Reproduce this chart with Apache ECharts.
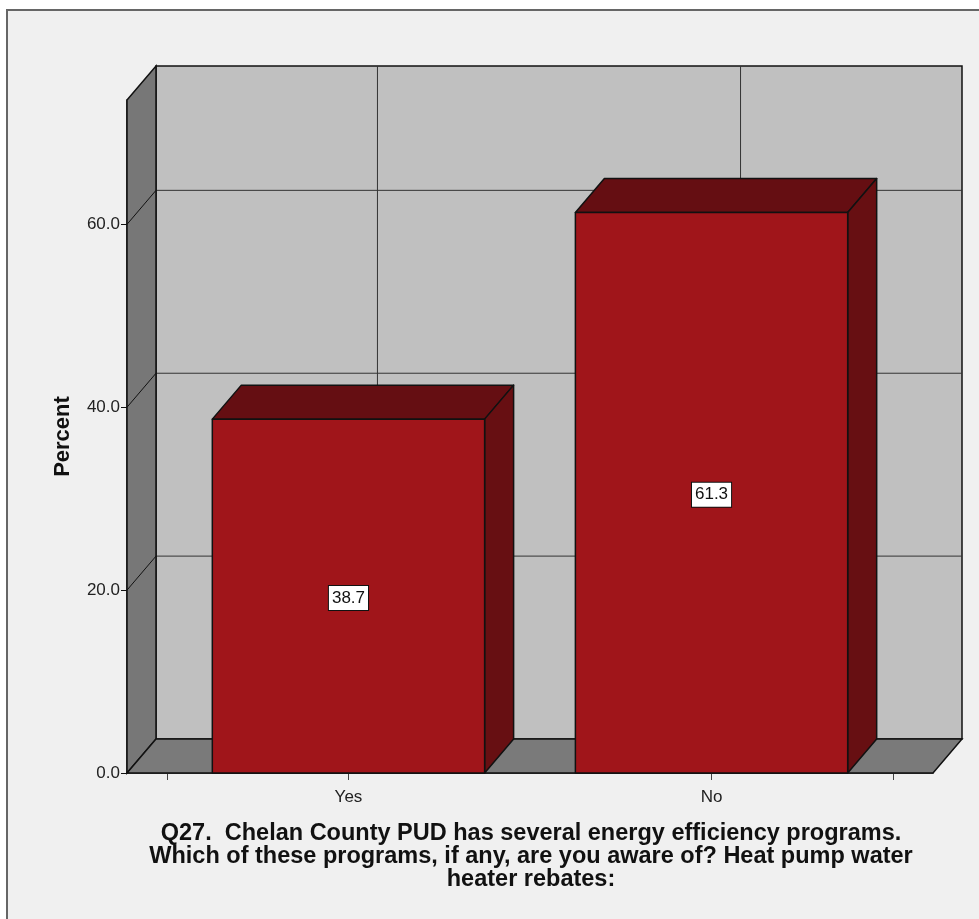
<!DOCTYPE html>
<html>
<head>
<meta charset="utf-8">
<script src="https://cdn.jsdelivr.net/npm/echarts@6/dist/echarts.min.js"></script>
<style>
  html, body { margin: 0; padding: 0; background: #ffffff; }
  #chart { width: 979px; height: 919px; }
</style>
</head>
<body>
<div id="chart"></div>
<script>
// Survey answers and their percentages
const categories = ['Yes', 'No'];
const percents = [38.7, 61.3];
const yTicks = [0, 20, 40, 60];
const titleLines = [
  'Q27.  Chelan County PUD has several energy efficiency programs.',
  'Which of these programs, if any, are you aware of? Heat pump water',
  'heater rebates:'
];

// Axis extents and the pseudo-3D look
const X_MIN = 0.39, X_MAX = 2.61, Y_MAX = 73.6;
const DEPTH = [29, -34];      // screen offset of the back plane
const HALF = 0.375;           // half bar width in axis units
const FONT = '"Liberation Sans", Arial, Helvetica, sans-serif';

function back(p) { return [p[0] + DEPTH[0], p[1] + DEPTH[1]]; }

// Back wall, left wall and floor of the box
function renderFrame(params, api) {
  const tl = api.coord([X_MIN, Y_MAX]);
  const br = api.coord([X_MAX, 0]);
  const bl = [tl[0], br[1]];
  const children = [];
  const btl = back(tl), bbr = back(br);
  children.push({
    type: 'rect',
    shape: { x: btl[0], y: btl[1], width: bbr[0] - btl[0], height: bbr[1] - btl[1] },
    style: { fill: '#c0c0c0', stroke: '#111', lineWidth: 1.5 }
  });
  yTicks.forEach(v => {
    if (v <= 0) return;
    const a = back(api.coord([X_MIN, v]));
    const b = back(api.coord([X_MAX, v]));
    children.push({ type: 'line', shape: { x1: a[0], y1: a[1], x2: b[0], y2: b[1] },
      style: { stroke: '#333', lineWidth: 1 } });
  });
  categories.forEach((c, i) => {
    const a = back(api.coord([i + 1, Y_MAX]));
    const b = back(api.coord([i + 1, 0]));
    children.push({ type: 'line', shape: { x1: a[0], y1: a[1], x2: b[0], y2: b[1] },
      style: { stroke: '#333', lineWidth: 1 } });
  });
  children.push({
    type: 'polygon',
    shape: { points: [tl, back(tl), back(bl), bl] },
    style: { fill: '#777777', stroke: '#111', lineWidth: 1.5 }
  });
  yTicks.forEach(v => {
    if (v <= 0) return;
    const a = api.coord([X_MIN, v]);
    const b = back(a);
    children.push({ type: 'line', shape: { x1: a[0], y1: a[1], x2: b[0], y2: b[1] },
      style: { stroke: '#111', lineWidth: 1 } });
  });
  children.push({
    type: 'polygon',
    shape: { points: [bl, back(bl), back(br), br] },
    style: { fill: '#7a7a7a', stroke: '#111', lineWidth: 1.5 }
  });
  return { type: 'group', children };
}

// One 3D box per answer, with its value label
function renderBar(params, api) {
  const c = api.value(0), v = api.value(1);
  const p0 = api.coord([c - HALF, v]);
  const p1 = api.coord([c + HALF, 0]);
  const fl = p0[0], fr = p1[0], ft = p0[1], fb = p1[1];
  const stroke = { stroke: '#111', lineWidth: 1.5, lineJoin: 'round' };
  const mid = api.coord([c, v / 2]);
  return {
    type: 'group',
    children: [
      { type: 'polygon', shape: { points: [[fl, ft], back([fl, ft]), back([fr, ft]), [fr, ft]] },
        style: Object.assign({ fill: '#650e12' }, stroke) },
      { type: 'polygon', shape: { points: [[fr, ft], back([fr, ft]), back([fr, fb]), [fr, fb]] },
        style: Object.assign({ fill: '#670f12' }, stroke) },
      { type: 'rect', shape: { x: fl, y: ft, width: fr - fl, height: fb - ft },
        style: Object.assign({ fill: '#a0151a' }, stroke) },
      { type: 'text', x: mid[0], y: mid[1] + 2,
        style: { text: v.toFixed(1), font: '17px ' + FONT, fill: '#111',
          align: 'center', verticalAlign: 'middle', backgroundColor: '#ffffff',
          borderColor: '#111', borderWidth: 1, padding: [3, 3, 2, 3], lineHeight: 19 } }
    ]
  };
}

const chart = echarts.init(document.getElementById('chart'), null, { renderer: 'canvas' });
chart.setOption({
  backgroundColor: '#ffffff',
  animation: false,
  graphic: [
    { type: 'rect', z: -100, shape: { x: 7, y: 10, width: 990, height: 930 },
      style: { fill: '#f0f0f0', stroke: '#666', lineWidth: 2 } },
    { type: 'text', z: 10, x: 531, y: 822,
      style: { text: titleLines.join('\n'), font: 'bold 23.5px ' + FONT, fill: '#111',
        align: 'center', verticalAlign: 'top', lineHeight: 23 } }
  ],
  grid: { left: 127, right: 46, top: 100, bottom: 146, containLabel: false },
  xAxis: {
    type: 'value', min: X_MIN, max: X_MAX,
    axisLine: { show: true, lineStyle: { color: '#111', width: 1.5 } },
    axisTick: { show: true, length: 7, customValues: [0.5, 1, 2, 2.5], lineStyle: { color: '#444' } },
    axisLabel: { customValues: [1, 2], margin: 16, fontSize: 17, fontFamily: FONT, color: '#222',
      formatter: v => categories[Math.round(v) - 1] || '' },
    splitLine: { show: false }
  },
  yAxis: {
    type: 'value', min: 0, max: Y_MAX,
    name: 'Percent', nameLocation: 'middle', nameGap: 53,
    nameTextStyle: { fontSize: 22, fontWeight: 'bold', fontFamily: FONT, color: '#111' },
    axisLine: { show: true, lineStyle: { color: '#111', width: 1.5 } },
    axisTick: { show: true, length: 6, customValues: yTicks, lineStyle: { color: '#111' } },
    axisLabel: { customValues: yTicks, margin: 7, fontSize: 17, fontFamily: FONT, color: '#222',
      formatter: v => v.toFixed(1) },
    splitLine: { show: false }
  },
  series: [
    { type: 'custom', z: 1, clip: false, renderItem: renderFrame, data: [[1, 0]] },
    { type: 'custom', z: 3, clip: false, renderItem: renderBar,
      data: categories.map((c, i) => [i + 1, percents[i]]) }
  ]
});
</script>
</body>
</html>
